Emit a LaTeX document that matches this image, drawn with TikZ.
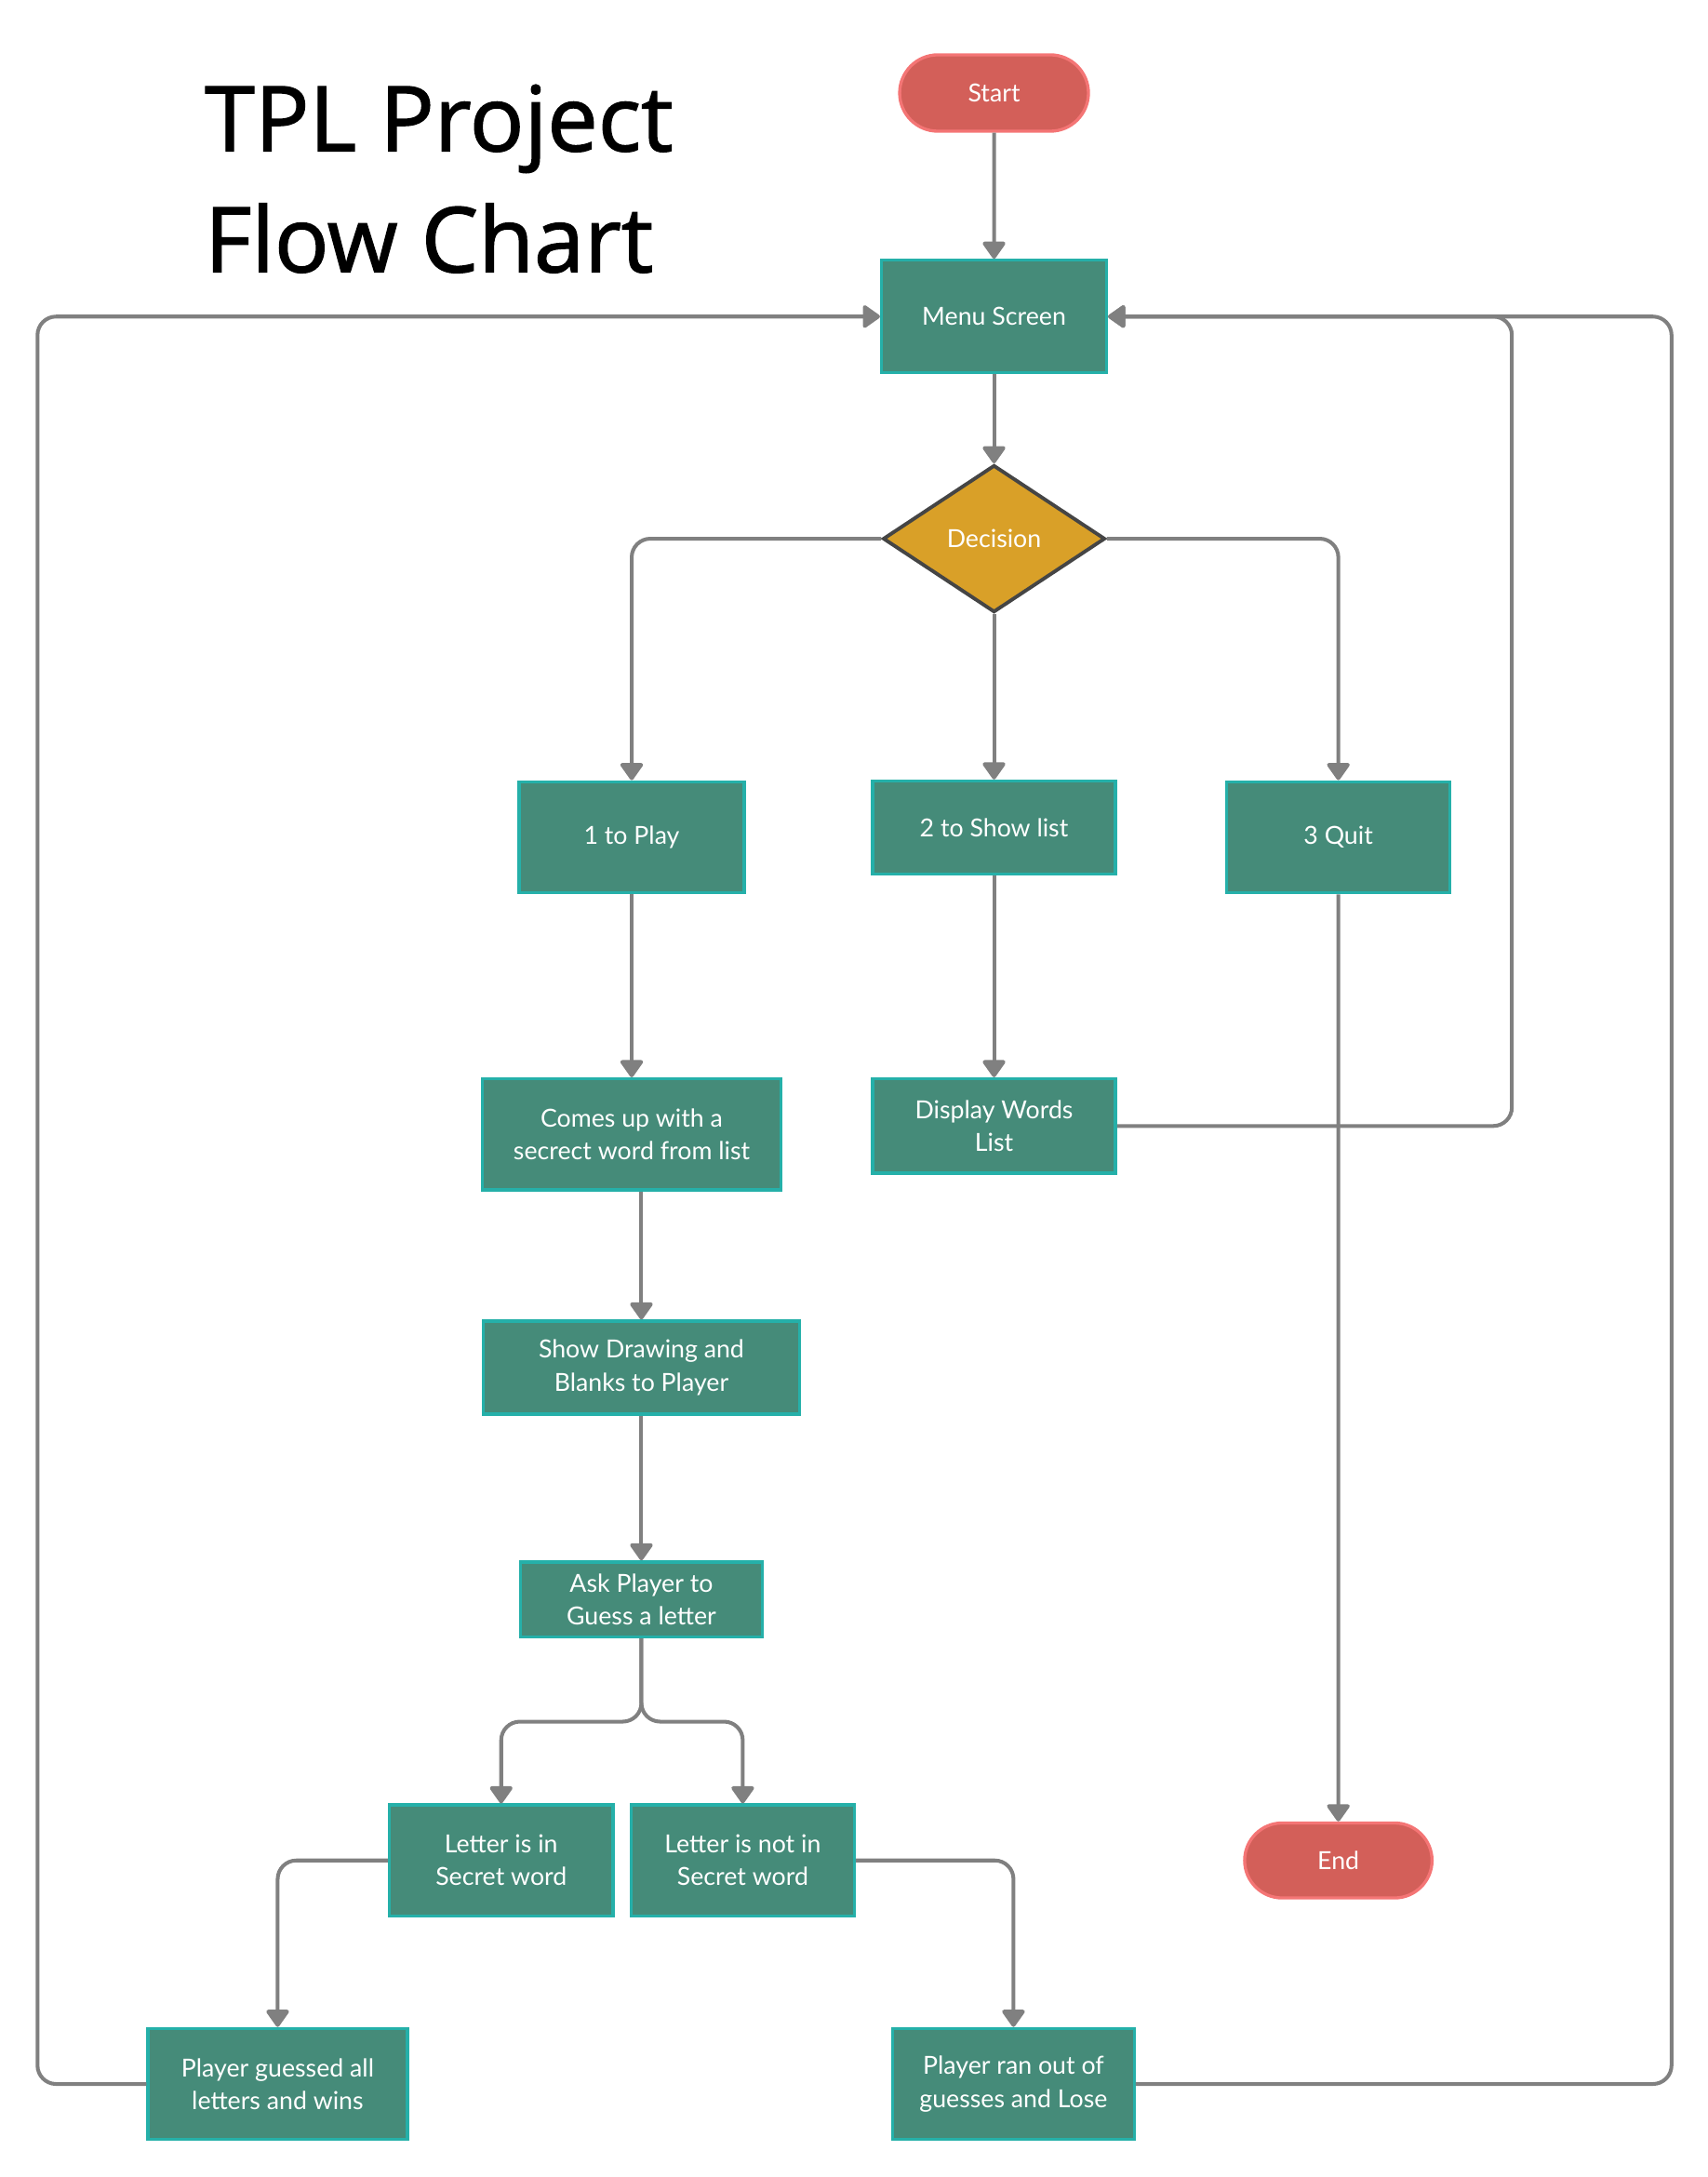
\documentclass[tikz,border=0pt]{standalone}
\usepackage{fontspec}
\setmainfont{Lato}
\newfontfamily\titlefont[FakeBold=1.4]{Open Sans}
\usepackage{tikz}
\usetikzlibrary{
  shapes.geometric,
  shapes.misc,
  arrows.meta,
  positioning
}
\newdimen\spx
\spx=0.014927cm
\definecolor{boxfill}{HTML}{458B79}
\definecolor{boxline}{HTML}{25B0A9}
\definecolor{termfill}{HTML}{D35F59}
\definecolor{termline}{HTML}{F47575}
\definecolor{decfill}{HTML}{D9A028}
\definecolor{decline}{HTML}{454545}
\definecolor{flowgrey}{HTML}{808080}
\tikzset{
  x=\spx, y=-\spx,
  every node/.style={inner sep=0pt, text=white, align=center,
    font=\fontsize{7.6}{10}\selectfont},
  box/.style={rectangle, draw=boxline, fill=boxfill, line width=0.95pt},
  term/.style={rounded rectangle, draw=termline, fill=termfill, line width=0.95pt},
  decision/.style={diamond, aspect=1.5, draw=decline, fill=decfill, line width=1.1pt},
  flow/.style={draw=flowgrey, line width=1.15pt, rounded corners=5.7pt,
    -{Triangle[width=7.7pt, length=5.7pt, round]}}
}

\begin{document}
\begin{tikzpicture}
    \useasboundingbox (0,0) rectangle (1230,1568);
    \node[anchor=base west, align=left, text=black,
      font=\titlefont\fontsize{27.7}{37}\selectfont] (title) at (147,196) {TPL Project\\Flow Chart};
    % main column
    \node[term, minimum width=136\spx, minimum height=55\spx] (start) at (716,67) {Start};
    \node[box, minimum width=162\spx, minimum height=81\spx] (menu) at (716,228) {Menu Screen};
    \node[decision, minimum width=160\spx, minimum height=106\spx] (dec) at (716,388) {Decision};
    \node[box, minimum width=162\spx, minimum height=80\spx] (play) at (455,603) {1 to Play};
    \node[box, minimum width=175\spx, minimum height=67\spx] (list) at (716,596) {2 to Show list};
    \node[box, minimum width=161\spx, minimum height=80\spx] (quit) at (964,603) {3 Quit};
    \node[box, minimum width=215\spx, minimum height=80\spx] (word) at (455,817) {Comes up with a\\secrect word from list};
    \node[box, minimum width=175\spx, minimum height=68\spx] (words) at (716,811) {Display Words\\List};
    \node[box, minimum width=228\spx, minimum height=67\spx] (blanks) at (462,985) {Show Drawing and\\Blanks to Player};
    \node[box, minimum width=174\spx, minimum height=54\spx] (guess) at (462,1152) {Ask Player to\\Guess a letter};
    \node[box, minimum width=161\spx, minimum height=80\spx] (hit) at (361,1340) {Letter is in\\Secret word};
    \node[box, minimum width=161\spx, minimum height=80\spx] (miss) at (535,1340) {Letter is not in\\Secret word};
    \node[term, minimum width=135\spx, minimum height=54\spx] (stop) at (964,1340) {End};
    \node[box, minimum width=187\spx, minimum height=80\spx] (win) at (200,1501) {Player guessed all\\letters and wins};
    \node[box, minimum width=174\spx, minimum height=80\spx] (lose) at (730,1501) {Player ran out of\\guesses and Lose};
    % turning points of the long lines
    \coordinate (split) at (462,1240);
    \coordinate (railL) at (27,1501);
    \coordinate (railM) at (1089,811);
    \coordinate (railR) at (1204,1501);
    % connectors
    \draw[flow] (start) -- (menu);
    \draw[flow] (menu) -- (dec);
    \draw[flow] (dec.west) -| (play.north);
    \draw[flow] (dec.south) -- (list.north);
    \draw[flow] (dec.east) -| (quit.north);
    \draw[flow] (play) -- (word);
    \draw[flow] (list) -- (words);
    \draw[flow] (quit) -- (stop);
    \draw[flow] (word.south -| blanks.north) -- (blanks.north);
    \draw[flow] (blanks) -- (guess);
    \draw[flow] (guess.south) -- (split) -| (hit.north);
    \draw[flow] (guess.south) -- (split) -| (miss.north);
    \draw[flow] (hit.west) -| (win.north);
    \draw[flow] (miss.east) -| (lose.north);
    \draw[flow] (words.east) -- (railM) |- (menu.east);
    \draw[flow] (lose.east) -- (railR) |- (menu.east);
    \draw[flow] (win.west) -- (railL) |- (menu.west);
\end{tikzpicture}
\end{document}
